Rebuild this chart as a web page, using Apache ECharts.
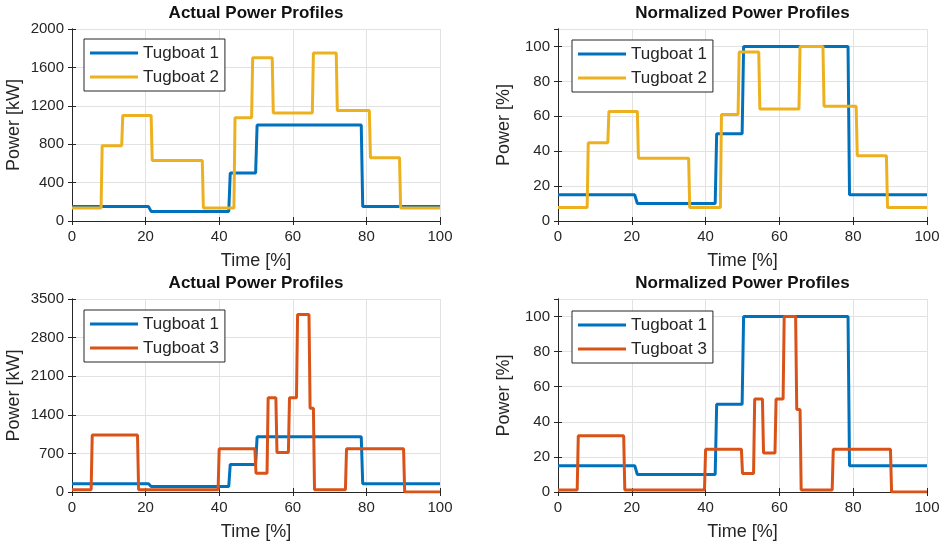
<!DOCTYPE html>
<html>
<head>
<meta charset="utf-8">
<title>Tugboat power profiles</title>
<script src="https://cdn.jsdelivr.net/npm/echarts@6/dist/echarts.min.js"></script>
<style>
  html, body { margin: 0; padding: 0; background: #fff; }
  #chart { width: 947px; height: 546px; }
</style>
</head>
<body>
<div id="chart"></div>
<script>
// values (time in %, power in kW or %)
const tug1Time = [0, 20.8, 21.5, 42.6, 43.0, 49.9, 50.3, 78.6, 79.0, 100];
const tug1Kw = [150, 150, 100, 100, 500, 500, 1000, 1000, 150, 150];
const tug1Pct = [15, 15, 10, 10, 50, 50, 100, 100, 15, 15];

const tug2Time = [0, 7.9, 8.2, 13.5, 13.8, 21.5, 21.8, 35.4, 35.7, 44.0, 44.3, 48.8, 49.1,
  54.4, 54.7, 65.3, 65.6, 71.8, 72.1, 80.8, 81.1, 89.0, 89.3, 100];
const tug2Kw = [135, 135, 785, 785, 1100, 1100, 630, 630, 135, 135, 1075, 1075, 1700,
  1700, 1125, 1125, 1750, 1750, 1150, 1150, 660, 660, 135, 135];
const tug2Pct = [7.7, 7.7, 44.8, 44.8, 62.8, 62.8, 36, 36, 7.7, 7.7, 61, 61, 96.8,
  96.8, 64.2, 64.2, 100, 100, 65.7, 65.7, 37.4, 37.4, 7.7, 7.7];

const tug3Time = [0, 5.2, 5.5, 17.8, 18.1, 39.7, 40.0, 49.7, 50.0, 53.0, 53.3, 55.4, 55.7,
  58.8, 59.1, 61.0, 61.3, 64.4, 64.7, 65.6, 65.9, 74.3, 74.6, 90.1, 90.4, 100];
const tug3Kw = [40, 40, 1035, 1035, 40, 40, 785, 785, 340, 340, 1710, 1710, 715,
  715, 1710, 1710, 3220, 3220, 1520, 1520, 40, 40, 785, 785, 0, 0];
const tug3Pct = [1.2, 1.2, 32, 32, 1.2, 1.2, 24.4, 24.4, 10.6, 10.6, 53, 53, 22.2,
  22.2, 53, 53, 100, 100, 47, 47, 1.2, 1.2, 24.3, 24.3, 0, 0];

const timeTicks = { min: 0, max: 100, interval: 20 };
const yTicks = [
  { min: 0, max: 2000, interval: 400 },
  { min: 0, max: 110, interval: 20 },
  { min: 0, max: 3500, interval: 700 },
  { min: 0, max: 110, interval: 20 },
];

const titles = ["Actual Power Profiles", "Normalized Power Profiles",
  "Actual Power Profiles", "Normalized Power Profiles"];
const yNames = ["Power [kW]", "Power [%]", "Power [kW]", "Power [%]"];

const BLUE = "#0072BD", YELLOW = "#EDB120", ORANGE = "#D95319";
const INK = "#262626";
const FONT = "'Liberation Sans', Arial, sans-serif";

const grids = [
  { left: 72, top: 29, width: 368, height: 192 },
  { left: 558, top: 29, width: 369, height: 192 },
  { left: 72, top: 299, width: 368, height: 193 },
  { left: 558, top: 299, width: 369, height: 193 },
];

const pairs = (t, v) => t.map((x, i) => [x, v[i]]);

const seriesList = [
  { name: "Tugboat 1", grid: 0, data: pairs(tug1Time, tug1Kw), color: BLUE },
  { name: "Tugboat 2", grid: 0, data: pairs(tug2Time, tug2Kw), color: YELLOW },
  { name: "Tugboat 1", grid: 1, data: pairs(tug1Time, tug1Pct), color: BLUE },
  { name: "Tugboat 2", grid: 1, data: pairs(tug2Time, tug2Pct), color: YELLOW },
  { name: "Tugboat 1", grid: 2, data: pairs(tug1Time, tug1Kw), color: BLUE },
  { name: "Tugboat 3", grid: 2, data: pairs(tug3Time, tug3Kw), color: ORANGE },
  { name: "Tugboat 1", grid: 3, data: pairs(tug1Time, tug1Pct), color: BLUE },
  { name: "Tugboat 3", grid: 3, data: pairs(tug3Time, tug3Pct), color: ORANGE },
];

const tick = { show: true, inside: true, length: 4, lineStyle: { color: INK } };
const line = { show: true, lineStyle: { color: INK, width: 1 } };
const split = { show: true, lineStyle: { color: "#e2e2e2", width: 1 } };
const label = { color: INK, fontSize: 15, fontFamily: FONT, margin: 8, formatter: (v) => String(v) };

const xAxes = [];
const yAxes = [];
grids.forEach((g, i) => {
  xAxes.push({
    type: "value", gridIndex: i, position: "bottom", ...timeTicks,
    axisLine: line, axisTick: tick, splitLine: split, axisLabel: label,
    name: "Time [%]", nameLocation: "middle", nameGap: 31,
    nameTextStyle: { color: INK, fontSize: 18, fontFamily: FONT },
  });
  yAxes.push({
    type: "value", gridIndex: i, position: "left", ...yTicks[i],
    axisLine: line, axisTick: tick, splitLine: split,
    axisLabel: { ...label, showMaxLabel: i % 2 === 0 },
    name: yNames[i], nameLocation: "middle", nameGap: i % 2 === 0 ? 49 : 45,
    nameTextStyle: { color: INK, fontSize: 18, fontFamily: FONT },
  });
});
// mirrored axes on top/right to close the box like matlab
grids.forEach((g, i) => {
  xAxes.push({
    type: "value", gridIndex: i, position: "top", ...timeTicks,
    axisLine: line, axisTick: tick, splitLine: { show: false }, axisLabel: { show: false },
  });
  yAxes.push({
    type: "value", gridIndex: i, position: "right", ...yTicks[i],
    axisLine: line, axisTick: tick, splitLine: { show: false }, axisLabel: { show: false },
  });
});

const legendPos = [
  { left: 84, top: 39, data: ["Tugboat 1", "Tugboat 2"] },
  { left: 572, top: 40, data: ["Tugboat 1", "Tugboat 2"] },
  { left: 84, top: 310, data: ["Tugboat 1", "Tugboat 3"] },
  { left: 572, top: 311, data: ["Tugboat 1", "Tugboat 3"] },
];

const option = {
  animation: false,
  backgroundColor: "#fff",
  title: grids.map((g, i) => ({
    text: titles[i],
    left: g.left + g.width / 2,
    textAlign: "center",
    top: i < 2 ? 5 : 275,
    padding: 0,
    textStyle: { fontSize: 17, fontWeight: "bold", color: "#111", fontFamily: FONT, lineHeight: 17 },
  })),
  legend: legendPos.map((l) => ({
    ...l,
    orient: "vertical",
    icon: "rect",
    itemWidth: 48,
    itemHeight: 3,
    itemGap: 4,
    padding: [4, 6, 4, 6],
    borderColor: INK,
    borderWidth: 1,
    backgroundColor: "#fff",
    selectedMode: false,
    textStyle: { color: INK, fontSize: 17, fontFamily: FONT, lineHeight: 20 },
  })),
  grid: grids,
  xAxis: xAxes,
  yAxis: yAxes,
  series: seriesList.map((s) => ({
    name: s.name,
    type: "line",
    xAxisIndex: s.grid,
    yAxisIndex: s.grid,
    data: s.data,
    showSymbol: false,
    color: s.color,
    lineStyle: { width: 3, color: s.color },
  })),
};

const myChart = echarts.init(document.getElementById("chart"));
myChart.setOption(option);
</script>
</body>
</html>
